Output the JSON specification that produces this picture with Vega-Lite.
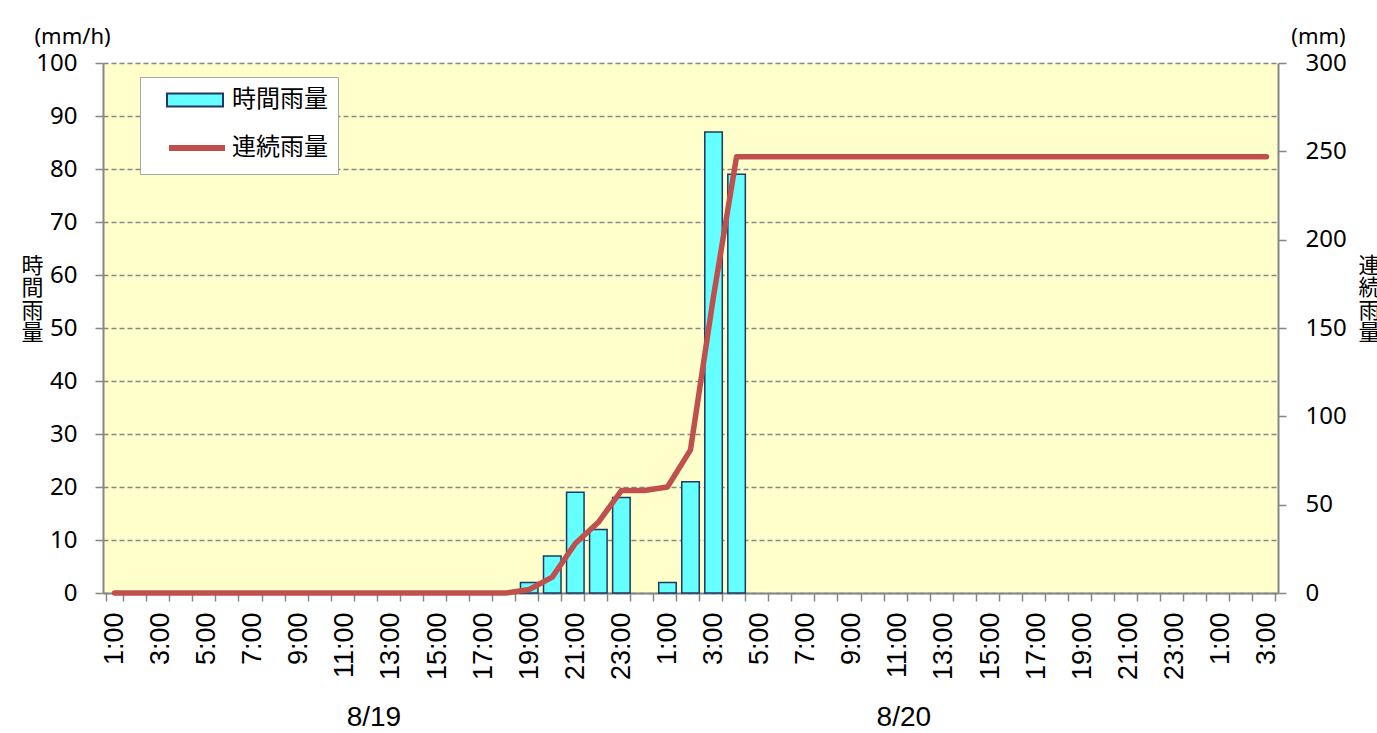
{
  "$schema": "https://vega.github.io/schema/vega-lite/v6.json",
  "width": 1175,
  "height": 530,
  "autosize": "none",
  "padding": {"left": 103, "top": 63, "right": 99, "bottom": 140},
  "background": "#ffffff",
  "config": {"view": {"fill": "#FFFFCC", "stroke": null}},
  "data": {
    "values": [
      {"k": "a1:00", "h": 0, "c": 0},
      {"k": "a2:00", "h": 0, "c": 0},
      {"k": "a3:00", "h": 0, "c": 0},
      {"k": "a4:00", "h": 0, "c": 0},
      {"k": "a5:00", "h": 0, "c": 0},
      {"k": "a6:00", "h": 0, "c": 0},
      {"k": "a7:00", "h": 0, "c": 0},
      {"k": "a8:00", "h": 0, "c": 0},
      {"k": "a9:00", "h": 0, "c": 0},
      {"k": "a10:00", "h": 0, "c": 0},
      {"k": "a11:00", "h": 0, "c": 0},
      {"k": "a12:00", "h": 0, "c": 0, "d": "8/19"},
      {"k": "a13:00", "h": 0, "c": 0},
      {"k": "a14:00", "h": 0, "c": 0},
      {"k": "a15:00", "h": 0, "c": 0},
      {"k": "a16:00", "h": 0, "c": 0},
      {"k": "a17:00", "h": 0, "c": 0},
      {"k": "a18:00", "h": 0, "c": 0},
      {"k": "a19:00", "h": 2, "c": 2},
      {"k": "a20:00", "h": 7, "c": 9},
      {"k": "a21:00", "h": 19, "c": 28},
      {"k": "a22:00", "h": 12, "c": 40},
      {"k": "a23:00", "h": 18, "c": 58},
      {"k": "a0:00", "h": 0, "c": 58},
      {"k": "b1:00", "h": 2, "c": 60},
      {"k": "b2:00", "h": 21, "c": 81},
      {"k": "b3:00", "h": 87, "c": 168},
      {"k": "b4:00", "h": 79, "c": 247},
      {"k": "b5:00", "h": 0, "c": 247},
      {"k": "b6:00", "h": 0, "c": 247},
      {"k": "b7:00", "h": 0, "c": 247},
      {"k": "b8:00", "h": 0, "c": 247},
      {"k": "b9:00", "h": 0, "c": 247},
      {"k": "b10:00", "h": 0, "c": 247},
      {"k": "b11:00", "h": 0, "c": 247, "d": "8/20"},
      {"k": "b12:00", "h": 0, "c": 247},
      {"k": "b13:00", "h": 0, "c": 247},
      {"k": "b14:00", "h": 0, "c": 247},
      {"k": "b15:00", "h": 0, "c": 247},
      {"k": "b16:00", "h": 0, "c": 247},
      {"k": "b17:00", "h": 0, "c": 247},
      {"k": "b18:00", "h": 0, "c": 247},
      {"k": "b19:00", "h": 0, "c": 247},
      {"k": "b20:00", "h": 0, "c": 247},
      {"k": "b21:00", "h": 0, "c": 247},
      {"k": "b22:00", "h": 0, "c": 247},
      {"k": "b23:00", "h": 0, "c": 247},
      {"k": "b0:00", "h": 0, "c": 247},
      {"k": "c1:00", "h": 0, "c": 247},
      {"k": "c2:00", "h": 0, "c": 247},
      {"k": "c3:00", "h": 0, "c": 247}
    ]
  },
  "encoding": {
    "x": {
      "field": "k",
      "type": "ordinal",
      "sort": null,
      "scale": {"paddingInner": 0.24, "paddingOuter": 0.12},
      "axis": {
        "title": null,
        "labelAngle": 270,
        "labelAlign": "right",
        "labelBaseline": "middle",
        "labelExpr": "isString(datum.value) && parseInt(substring(datum.value,1)) % 2 == 1 ? substring(datum.value,1) : ''",
        "labelOverlap": false,
        "labelFont": "Liberation Sans",
        "labelFontSize": 27,
        "labelColor": "#000000",
        "labelPadding": 11,
        "tickBand": "extent",
        "tickColor": "#868686",
        "tickSize": 8,
        "tickWidth": 1.5,
        "domainColor": "#868686",
        "domainWidth": 2,
        "grid": false
      }
    }
  },
  "layer": [
    {
      "layer": [
        {
          "mark": {"type": "bar", "stroke": "#1F3864", "strokeWidth": 1.5},
          "encoding": {
            "y": {
              "field": "h",
              "type": "quantitative",
              "scale": {"domain": [0, 100], "nice": false},
              "axis": {
                "orient": "left",
                "values": [0, 10, 20, 30, 40, 50, 60, 70, 80, 90, 100],
                "title": ["時", "間", "雨", "量"],
                "titleAngle": 0,
                "titleX": -71,
                "titleY": 192,
                "titleAlign": "center",
                "titleBaseline": "top",
                "titleFont": "Noto Sans CJK JP",
                "titleFontSize": 22,
                "titleFontWeight": "normal",
                "titleLineHeight": 22.5,
                "titleColor": "#000000",
                "grid": true,
                "gridDash": [5, 3],
                "gridColor": "#868686",
                "gridWidth": 1.3,
                "domainColor": "#868686",
                "domainWidth": 2,
                "tickColor": "#868686",
                "tickSize": 8,
                "tickWidth": 1.5,
                "labelFont": "Noto Sans",
                "labelFontSize": 24,
                "labelColor": "#000000",
                "labelPadding": 18
              }
            },
            "strokeOpacity": {"condition": {"test": "datum.h > 0", "value": 1}, "value": 0},
            "fill": {
              "datum": "時間雨量",
              "scale": {"range": ["#66FFFF"]},
              "legend": {
                "orient": "none",
                "legendX": 37,
                "legendY": 14,
                "title": "                            ",
                "titleOrient": "bottom",
                "titleFontSize": 26,
                "titlePadding": 25,
                "titleLimit": 400,
                "fillColor": "#ffffff",
                "strokeColor": "#A6A6A6",
                "padding": 10,
                "symbolType": "M-1,-0.23H1V0.23H-1Z",
                "symbolSize": 3136,
                "symbolStrokeColor": "#1F3864",
                "symbolStrokeWidth": 2,
                "symbolOpacity": 1,
                "clipHeight": 26,
                "symbolOffset": 16,
                "labelOffset": 8,
                "labelFont": "Noto Sans CJK JP",
                "labelFontSize": 24,
                "labelColor": "#000000"
              }
            }
          }
        },
        {
          "mark": {"type": "text", "font": "Liberation Sans", "fontSize": 28, "baseline": "middle", "align": "center", "dx": 6, "color": "#000000"},
          "encoding": {
            "text": {"condition": {"test": "isValid(datum.d)", "field": "d"}, "value": ""},
            "y": {"datum": -23.6, "type": "quantitative"}
          }
        },
        {
          "data": {"values": [{"u": "(mm/h)"}]},
          "mark": {"type": "text", "font": "Noto Sans", "fontSize": 22, "baseline": "middle", "align": "center", "dx": -42, "color": "#000000"},
          "encoding": {
            "x": {"datum": "a1:00"},
            "y": {"datum": 105, "type": "quantitative"},
            "text": {"field": "u"}
          }
        }
      ]
    },
    {
      "layer": [
        {
          "mark": {"type": "line", "strokeWidth": 5.5, "strokeCap": "round", "strokeJoin": "round"},
          "encoding": {
            "y": {
              "field": "c",
              "type": "quantitative",
              "scale": {"domain": [0, 300], "nice": false},
              "axis": {
                "orient": "right",
                "values": [0, 50, 100, 150, 200, 250, 300],
                "title": ["連", "続", "雨", "量"],
                "titleAngle": 0,
                "titleX": 91,
                "titleY": 192,
                "titleAlign": "center",
                "titleBaseline": "top",
                "titleFont": "Noto Sans CJK JP",
                "titleFontSize": 22,
                "titleFontWeight": "normal",
                "titleLineHeight": 22.5,
                "titleColor": "#000000",
                "grid": false,
                "domainColor": "#868686",
                "domainWidth": 2,
                "tickColor": "#868686",
                "tickSize": 8,
                "tickWidth": 1.5,
                "labelFont": "Noto Sans",
                "labelFontSize": 24,
                "labelColor": "#000000",
                "labelPadding": 19
              }
            },
            "stroke": {
              "datum": "連続雨量",
              "scale": {"range": ["#C0504D"]},
              "legend": {
                "orient": "none",
                "legendX": 37,
                "legendY": 62,
                "title": null,
                "padding": 10,
                "symbolType": "stroke",
                "symbolSize": 3136,
                "symbolStrokeWidth": 6,
                "symbolOpacity": 1,
                "clipHeight": 26,
                "symbolOffset": 16,
                "labelOffset": 4,
                "labelFont": "Noto Sans CJK JP",
                "labelFontSize": 24,
                "labelColor": "#000000"
              }
            }
          }
        },
        {
          "data": {"values": [{"u": "(mm)"}]},
          "mark": {"type": "text", "font": "Noto Sans", "fontSize": 22, "baseline": "middle", "align": "center", "dx": 52, "color": "#000000"},
          "encoding": {
            "x": {"datum": "c3:00"},
            "y": {"datum": 314.7, "type": "quantitative"},
            "text": {"field": "u"}
          }
        }
      ]
    }
  ],
  "resolve": {"scale": {"y": "independent"}}
}
